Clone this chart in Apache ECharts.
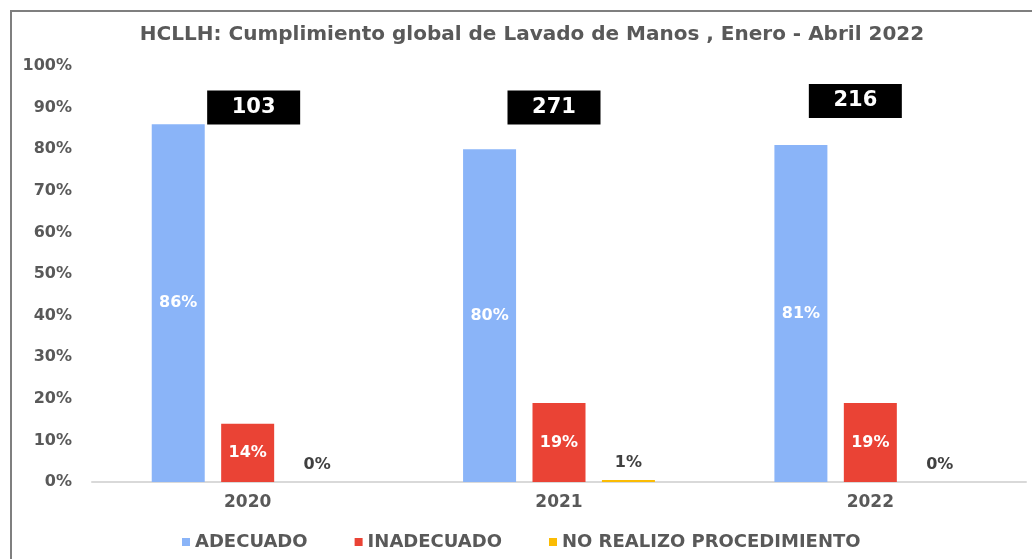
<!DOCTYPE html>
<html style="height: 100%">
<head>
<meta charset="utf-8">
<script src="https://cdn.jsdelivr.net/npm/echarts@6/dist/echarts.min.js"></script>
</head>
<body style="width: 100%; height: 100%; margin: 0;">
<div id="container" style="width: 1032px; height: 559px;"></div>
<script type="text/javascript">
	var years = ['2020', '2021', '2022'];
	var adecuado = [86, 80, 81];
	var inadecuado = [14, 19, 19];
	var noRealizo = [0, 0.5, 0];
	var totales = [103, 271, 216];
	var yTicks = [0, 10, 20, 30, 40, 50, 60, 70, 80, 90, 100];

	var grayText = '#595959';
	var font = 'DejaVu Sans';

	var dom = document.getElementById('container');
	var myChart = echarts.init(dom);

	function pct(p) {
		return Math.round(p.value) + '%';
	}

	// cajas negras con el total de observaciones
	var boxY = [90, 90, 91.6];
	var boxDx = [6, -5, -15];
	var boxData = totales.map(function (t, i) {
		return {
			value: [i, boxY[i]],
			label: { offset: [boxDx[i], 0] }
		};
	});

	var option = {
		animation: false,
		backgroundColor: '#fff',
		title: {
			text: 'HCLLH: Cumplimiento global de Lavado de Manos , Enero - Abril 2022',
			left: 527,
			textAlign: 'center',
			top: 20,
			textStyle: {
				fontFamily: font,
				fontSize: 20,
				fontWeight: 'bold',
				color: grayText
			}
		},
		graphic: [
			{
				type: 'polyline',
				shape: { points: [[1032, 11], [11, 11], [11, 559]] },
				style: { stroke: '#7f7f7f', lineWidth: 2, fill: null }
			}
		],
		legend: {
			data: ['ADECUADO', 'INADECUADO', 'NO REALIZO PROCEDIMIENTO'],
			left: 177,
			top: 528,
			icon: 'rect',
			itemWidth: 8,
			itemHeight: 8,
			itemGap: 47,
			textStyle: {
				fontFamily: font,
				fontSize: 18,
				fontWeight: 'bold',
				color: grayText
			}
		},
		grid: {
			left: 92,
			right: 6,
			top: 66,
			bottom: 77
		},
		xAxis: {
			type: 'category',
			data: years,
			axisTick: { show: false },
			axisLine: { lineStyle: { color: '#d9d9d9', width: 2 } },
			axisLabel: {
				margin: 12,
				fontFamily: font,
				fontSize: 17,
				fontWeight: 'bold',
				color: grayText
			}
		},
		yAxis: {
			type: 'value',
			min: yTicks[0],
			max: yTicks[yTicks.length - 1],
			interval: 10,
			splitLine: { show: false },
			axisLine: { show: false },
			axisTick: { show: false },
			axisLabel: {
				margin: 20,
				formatter: '{value}%',
				fontFamily: font,
				fontSize: 16,
				fontWeight: 'bold',
				color: grayText
			}
		},
		series: [
			{
				name: 'ADECUADO',
				type: 'bar',
				data: adecuado,
				barWidth: 53,
				barGap: '31%',
				itemStyle: { color: '#8ab4f8' },
				label: {
					show: true,
					position: 'inside',
					formatter: pct,
					fontFamily: font,
					fontSize: 16,
					fontWeight: 'bold',
					color: '#fff'
				}
			},
			{
				name: 'INADECUADO',
				type: 'bar',
				data: inadecuado,
				barWidth: 53,
				barGap: '31%',
				itemStyle: { color: '#ea4335' },
				label: {
					show: true,
					position: 'inside',
					formatter: pct,
					fontFamily: font,
					fontSize: 16,
					fontWeight: 'bold',
					color: '#fff'
				}
			},
			{
				name: 'NO REALIZO PROCEDIMIENTO',
				type: 'bar',
				data: noRealizo,
				barWidth: 53,
				barGap: '31%',
				itemStyle: { color: '#fbbc04' },
				label: {
					show: true,
					position: 'top',
					distance: 9,
					formatter: pct,
					fontFamily: font,
					fontSize: 16,
					fontWeight: 'bold',
					color: '#404040'
				}
			},
			{
				name: 'Total',
				type: 'scatter',
				data: boxData,
				symbolSize: 1,
				itemStyle: { color: 'rgba(0,0,0,0)', opacity: 1 },
				silent: true,
				z: 10,
				label: {
					show: true,
					position: 'inside',
					formatter: function (p) {
						return totales[p.dataIndex];
					},
					backgroundColor: '#000',
					width: 93,
					height: 34,
					lineHeight: 34,
					align: 'center',
					verticalAlign: 'middle',
					fontFamily: font,
					fontSize: 21,
					fontWeight: 'bold',
					color: '#fff'
				}
			}
		]
	};

	myChart.setOption(option);
</script>
</body>
</html>
